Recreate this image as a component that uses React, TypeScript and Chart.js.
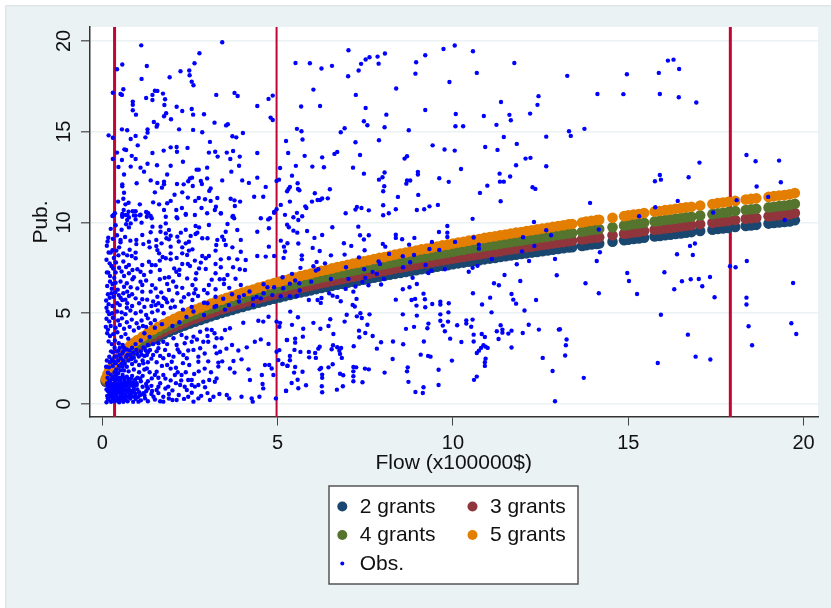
import React, { useEffect, useRef } from "react";
import { Chart, registerables } from "chart.js";

Chart.register(...registerables);

const seriesNames = ["2 grants", "3 grants", "4 grants", "5 grants"];
const seriesColors = ["#1a476f", "#90353b", "#55752f", "#e37e00"];
const obsName = "Obs.";
const obsColor = "#0000ff";
const xTicks = [0, 5, 10, 15, 20];
const yTicks = [0, 5, 10, 15, 20];
const xTitle = "Flow (x100000$)";
const yTitle = "Pub.";
const xRange = [-0.365, 20.41];
const yRange = [-0.716, 20.77];
const cutoffs = [0.35, 4.97, 17.91];
const cutoffWidths = [3, 2, 3];

const flowGrid = [
  0.1,0.15,0.2,0.3,0.4,0.5,0.6,0.7,0.8,0.9,1.0,1.15,1.3,1.45,1.6,1.75,1.9,2.05,2.2,2.35,2.5,2.65,2.8,2.95,3.1,3.25,3.4,3.55,3.7,3.85,4.0,4.15,4.3,4.45,4.6,4.75,4.9,5.05,
  5.2,5.35,5.5,5.65,5.8,5.95,6.1,6.25,6.4,6.55,6.7,6.85,7.0,7.15,7.3,7.45,7.6,7.75,7.9,8.05,8.2,8.35,8.5,8.65,8.8,8.95,9.1,9.25,9.4,9.55,9.7,9.85,
  10.0,10.15,10.3,10.45,10.6,10.75,10.9,11.05,11.2,11.35,11.5,11.65,11.8,11.95,12.1,12.25,12.4,12.55,12.7,12.85,13.0,13.15,13.3,13.4,
  13.68,13.8,13.95,14.1,14.17,14.55,14.88,15.0,15.15,15.3,15.45,15.75,15.9,16.05,16.2,16.35,16.5,16.65,16.8,17.05,17.4,17.55,17.7,17.85,18.05,18.35,18.5,18.65,19.0,19.15,19.3,19.45,19.6,19.75,
];
const fit2 = [
  1.22,1.44,1.61,1.90,2.13,2.33,2.50,2.66,2.81,2.94,3.07,3.24,3.41,3.56,3.71,3.84,3.97,4.09,4.21,4.32,4.43,4.53,4.63,4.73,4.83,4.92,5.01,5.10,5.18,5.27,5.35,5.43,5.50,5.58,5.65,5.73,5.80,5.87,
  5.94,6.01,6.07,6.14,6.20,6.26,6.33,6.39,6.45,6.51,6.57,6.62,6.68,6.74,6.79,6.85,6.90,6.96,7.01,7.06,7.12,7.17,7.22,7.27,7.32,7.37,7.42,7.46,7.51,7.56,7.61,7.65,
  7.70,7.75,7.79,7.84,7.88,7.92,7.97,8.01,8.05,8.10,8.14,8.18,8.22,8.26,8.30,8.34,8.38,8.42,8.46,8.50,8.54,8.58,8.62,8.64,
  8.71,8.75,8.79,8.82,8.84,8.94,9.02,9.05,9.09,9.12,9.16,9.23,9.26,9.30,9.33,9.37,9.40,9.44,9.47,9.53,9.60,9.64,9.67,9.70,9.75,9.81,9.84,9.87,9.94,9.97,10.0,10.03,10.06,10.12,
];
const fit3 = [
  1.27,1.50,1.67,1.98,2.22,2.42,2.60,2.77,2.92,3.06,3.19,3.37,3.55,3.70,3.86,3.99,4.13,4.25,4.38,4.49,4.61,4.71,4.82,4.92,5.02,5.12,5.21,5.30,5.39,5.48,5.56,5.65,5.72,5.80,5.88,5.96,6.03,6.10,
  6.18,6.25,6.31,6.39,6.45,6.51,6.58,6.65,6.71,6.77,6.83,6.88,6.95,7.01,7.06,7.12,7.18,7.24,7.29,7.34,7.40,7.46,7.51,7.56,7.61,7.66,7.72,7.76,7.81,7.86,7.91,7.96,
  8.01,8.06,8.10,8.15,8.20,8.24,8.29,8.33,8.37,8.42,8.47,8.51,8.55,8.59,8.63,8.67,8.72,8.76,8.80,8.84,8.88,8.92,8.96,8.99,
  9.06,9.10,9.14,9.17,9.19,9.30,9.38,9.41,9.45,9.48,9.53,9.60,9.63,9.67,9.70,9.74,9.78,9.82,9.85,9.91,9.98,10.03,10.06,10.09,10.14,10.20,10.23,10.26,10.34,10.37,10.40,10.43,10.46,10.52,
];
const fit4 = [
  1.33,1.57,1.75,2.07,2.32,2.54,2.73,2.90,3.06,3.20,3.35,3.53,3.72,3.88,4.04,4.19,4.33,4.46,4.59,4.71,4.83,4.94,5.05,5.16,5.26,5.36,5.46,5.56,5.65,5.74,5.83,5.92,6.00,6.08,6.16,6.25,6.32,6.40,
  6.47,6.55,6.62,6.69,6.76,6.82,6.90,6.97,7.03,7.10,7.16,7.22,7.28,7.35,7.40,7.47,7.52,7.59,7.64,7.70,7.76,7.82,7.87,7.92,7.98,8.03,8.09,8.13,8.19,8.24,8.29,8.34,
  8.39,8.45,8.49,8.55,8.59,8.63,8.69,8.73,8.77,8.83,8.87,8.92,8.96,9.00,9.05,9.09,9.13,9.18,9.22,9.27,9.31,9.35,9.40,9.42,
  9.49,9.54,9.58,9.61,9.64,9.74,9.83,9.86,9.91,9.94,9.98,10.06,10.09,10.14,10.17,10.21,10.25,10.29,10.32,10.39,10.46,10.51,10.54,10.57,10.63,10.69,10.73,10.76,10.83,10.87,10.90,10.93,10.97,11.03,
];
const fit5 = [
  1.40,1.65,1.85,2.18,2.45,2.67,2.87,3.05,3.23,3.38,3.52,3.72,3.91,4.09,4.26,4.41,4.56,4.70,4.83,4.96,5.09,5.20,5.32,5.43,5.54,5.65,5.75,5.85,5.95,6.05,6.14,6.23,6.31,6.41,6.49,6.58,6.66,6.74,
  6.82,6.90,6.97,7.05,7.12,7.19,7.27,7.34,7.40,7.47,7.54,7.60,7.67,7.74,7.79,7.86,7.92,7.99,8.05,8.10,8.17,8.23,8.29,8.35,8.40,8.46,8.52,8.56,8.62,8.68,8.74,8.78,
  8.84,8.90,8.94,9.00,9.05,9.09,9.15,9.20,9.24,9.30,9.34,9.39,9.44,9.48,9.53,9.57,9.62,9.67,9.71,9.76,9.80,9.85,9.90,9.92,
  10.00,10.05,10.09,10.13,10.15,10.26,10.35,10.39,10.44,10.47,10.52,10.60,10.63,10.68,10.71,10.76,10.79,10.84,10.87,10.94,11.02,11.07,11.10,11.14,11.19,11.26,11.30,11.33,11.41,11.45,11.48,11.51,11.55,11.62,
];

const obsUpperMiddle: [number, number][] = [
  [5.51,18.79],[5.92,18.77],[6.25,18.48],[6.55,18.63],[7.02,19.49],[7.01,18.06],[7.31,18.37],[7.38,18.74],[7.51,18.98],[7.62,19.10],[7.85,19.14],[7.88,18.75],[8.06,19.31],[8.95,18.83],[9.21,19.21],[8.93,18.20],[9.73,19.56],[10.05,19.75],[10.57,19.43],[11.75,18.79],[10.68,18.24],[9.90,17.74],[6.02,17.32],[8.38,17.38],[7.23,17.03],[5.67,16.39],[6.21,16.42],[7.51,16.31],[9.21,16.20],[8.10,15.94],[10.08,15.98],[10.88,15.87],[11.37,16.64],[11.61,15.93],[11.65,15.63],[12.44,16.96],[12.41,16.48],[12.20,16.0],[7.46,15.58],[7.56,15.36],[8.05,15.25],[8.74,15.08],[10.07,15.30],[10.29,15.30],[11.24,15.38],[5.55,15.16],[5.68,15.03],[6.91,15.19],[6.80,14.97],[5.24,14.49],[5.71,14.57],[7.22,14.42],[7.89,14.53],[11.45,14.71],[12.66,14.73],[9.42,14.25],[9.76,14.02],[10.05,13.96],[10.92,14.16],[11.27,14.0],[11.82,14.33],[5.30,13.83],[5.77,13.67],[6.27,13.59],[6.62,13.78],[6.70,13.89],[7.35,13.72],[8.69,13.65],[8.62,13.52],[12.07,13.52],[12.21,13.56],[5.52,13.12],[5.99,13.08],[6.32,13.04],[7.15,13.02],[11.80,13.15],[12.66,13.10],[10.23,12.95],[5.07,13.0],[5.41,12.58],[7.46,12.69],[8.05,12.75],[9.0,12.79],[9.0,12.64],[11.33,12.69],[11.63,12.53],[7.89,12.36],[7.99,12.49],[9.61,12.44],[8.69,12.31],[8.78,12.31],[8.67,12.14],[9.88,12.24],[11.34,12.25],[11.45,12.25],[10.98,12.03],[5.57,12.16],[5.35,11.96],[5.31,11.85],[5.27,11.72],[5.58,11.85],[5.62,11.78],[6.49,11.83],[6.06,11.61],[8.04,12.0],[8.01,11.72],[12.27,11.94],[12.35,11.85],[10.77,11.63],[9.01,11.52],[8.43,11.41],[5.98,11.15],[6.14,11.24],[6.21,11.24],[6.27,11.32],[6.43,11.33],[5.35,11.15],[11.36,11.17],[5.09,10.97],[5.79,10.89],[5.82,10.80],[8.01,10.95],[9.57,10.97],[9.33,10.89],[9.18,10.73],[8.97,10.69],[8.37,10.73],[7.60,10.67],[7.39,10.80],[7.26,10.86],[7.22,10.71],[6.94,10.51],[8.17,10.51],[8.01,10.40],[5.21,10.42],[5.55,10.53],[5.45,10.29],[5.70,10.34],[5.59,10.14],[5.27,9.88],[5.32,9.74],[6.56,9.74],[7.30,9.77],[9.84,9.81],[10.56,10.20],[12.31,10.03],
];
const obsRight: [number, number][] = [
  [13.26,18.08],[14.12,17.08],[14.86,17.07],[14.96,18.17],[15.87,18.24],[15.90,17.08],[16.13,18.92],[16.29,18.97],[16.45,18.46],[16.44,16.90],[16.94,16.61],[13.31,15.03],[13.36,14.77],[13.75,15.16],[17.03,13.30],[15.90,12.62],[15.93,12.36],[15.76,12.27],[16.72,12.49],[13.91,11.08],[15.31,10.34],[15.77,10.84],[16.41,11.19],[17.42,10.55],[18.09,11.23],[18.37,13.72],[18.63,13.37],[19.30,13.41],[18.66,11.98],[19.35,12.22],[18.99,11.41],[19.46,10.14],
  [14.16,9.61],[14.19,8.36],[14.10,7.88],[16.76,8.71],[16.90,8.84],[16.39,8.25],[16.84,8.21],[18.38,7.88],[17.90,7.59],[18.06,7.53],[14.97,7.22],[16.03,7.26],[15.02,6.78],[13.78,6.65],[14.16,6.10],[15.25,6.06],[16.31,6.32],[16.53,6.76],[16.78,6.87],[17.01,6.89],[17.33,7.0],[17.11,6.49],[17.46,5.88],[18.37,5.86],[18.37,5.48],[19.70,6.67],[15.93,4.92],[18.43,4.28],[19.65,4.45],[19.79,3.86],[16.70,3.82],[13.05,4.12],[13.24,3.55],[13.22,3.24],[13.20,2.67],[18.53,3.24],[16.92,2.61],[17.34,2.45],[15.84,2.26],[13.73,1.44],
];
const obsLowerMiddle: [number, number][] = [
  [5.45,9.55],[5.56,9.44],[5.84,9.53],[6.27,9.31],[6.05,9.15],[7.35,9.30],[7.60,9.30],[7.46,9.06],[8.37,9.33],[8.37,9.15],[8.55,9.08],[8.90,9.15],[9.60,9.48],[9.84,9.44],[9.84,9.20],[6.89,8.86],[7.10,8.71],[8.0,8.82],[8.07,8.67],[8.75,8.78],[9.40,8.93],[10.06,8.93],[10.59,9.17],[10.74,8.78],[10.74,8.56],[12.0,9.19],[12.80,9.30],[12.66,9.57],[5.09,9.0],[5.28,8.86],[5.18,8.67],[5.21,8.40],[5.17,8.05],[5.59,8.84],[6.0,8.60],[6.20,8.43],[5.69,8.19],[5.69,7.97],[6.52,8.19],[6.91,8.23],[7.48,8.47],[7.32,8.08],[8.18,8.27],[8.57,8.14],[8.89,8.21],[9.33,8.54],[9.61,8.49],[12.32,8.71],[11.97,8.41],[12.17,7.88],[12.91,7.99],[11.11,7.99],[11.82,7.70],[10.70,7.61],[10.56,7.50],[10.45,7.29],[12.96,7.09],[11.47,7.11],[9.77,7.42],[9.39,7.35],[9.30,7.22],[9.22,7.66],[8.78,7.81],[8.58,7.53],[8.85,6.95],[8.03,6.89],[7.88,7.86],[7.92,7.72],[7.83,7.17],[7.71,7.28],[7.47,7.42],[7.50,6.95],[7.42,6.72],[7.02,6.89],[6.95,7.53],[6.52,6.89],[6.35,7.75],[6.11,7.83],[6.02,7.59],[6.16,7.42],[6.09,7.35],[5.65,7.50],[5.41,7.17],[5.14,6.98],[5.96,6.74],[5.50,6.80],[5.35,6.63],[5.62,6.65],[5.16,6.38],[5.63,6.25],[5.09,5.94],[5.35,5.94],[5.55,5.95],[5.89,5.73],[6.14,5.73],[6.25,5.84],[6.23,5.57],[6.94,6.34],[7.22,6.47],[7.59,6.54],[7.95,6.58],[8.57,6.32],[8.76,6.43],[8.97,6.61],[6.47,6.10],[6.57,5.97],[6.70,5.90],[6.80,5.66],[7.16,6.19],[7.25,5.79],[7.14,5.46],[7.20,5.37],[8.37,5.75],[8.82,5.73],[8.92,5.79],[9.20,5.77],[9.16,6.08],[8.96,5.42],[9.21,5.33],[9.41,5.51],[9.64,5.64],[9.64,5.48],[9.88,5.55],[9.87,5.05],[10.57,6.10],[11.17,6.65],[11.31,6.54],[11.92,6.78],[11.06,5.86],[11.67,6.06],[11.72,5.75],[11.80,5.53],[12.37,5.73],[10.83,5.48],[11.10,5.05],[12.04,5.15],
  [5.36,5.09],[5.58,4.78],[6.50,4.67],[6.97,4.92],[7.36,5.0],[7.26,4.83],[7.40,4.74],[7.62,4.94],[8.57,4.94],[8.97,4.87],[9.64,4.94],[9.64,4.59],[9.86,4.54],[10.12,4.34],[10.38,4.61],[10.38,4.43],[10.56,4.65],[10.52,4.26],[9.71,4.32],[9.77,4.01],[9.30,4.43],[9.27,4.17],[8.89,4.25],[8.66,4.14],[7.56,4.37],[7.32,4.04],[6.91,4.54],[6.02,4.47],[5.41,4.36],[5.07,4.47],[5.73,4.15],[6.22,4.15],[6.45,4.30],[6.59,3.86],[7.50,3.91],[7.71,3.75],[7.33,3.68],[5.72,3.71],[5.27,3.53],[5.50,3.60],[5.50,3.38],[7.95,3.40],[8.29,3.44],[8.58,3.29],[9.17,3.44],[9.92,3.60],[10.24,3.42],[10.59,3.82],[10.59,3.44],[10.82,3.86],[10.91,3.69],[11.25,4.01],[11.36,4.34],[11.41,4.10],[11.41,3.93],[11.58,3.88],[11.67,4.04],[11.30,3.58],[11.99,3.91],[12.16,4.37],[12.45,4.10],[13.02,4.10],[11.67,3.11],[10.93,3.16],[10.87,3.24],[10.80,3.09],[10.74,2.94],[10.68,2.81],[10.99,3.09],[10.93,2.50],[10.91,2.30],[10.91,2.10],[9.97,2.39],[12.56,2.54],[12.84,1.82],[9.59,1.89],[9.08,2.72],[9.29,2.65],[9.36,2.61],[8.28,2.48],[7.83,3.05],[7.17,3.18],[6.83,2.54],[6.78,2.76],[6.76,2.94],[6.70,3.13],[6.81,3.09],[6.58,3.24],[6.54,3.02],[6.20,3.16],[6.16,3.05],[5.89,2.87],[6.07,2.81],[6.09,2.54],[5.90,2.57],[5.65,2.87],[5.48,2.98],[5.35,2.65],[5.35,2.41],[5.14,2.21],[5.28,2.10],[5.50,2.04],[5.47,1.73],[5.71,1.78],[6.24,1.99],[6.20,1.91],[6.45,2.02],[6.57,2.19],[6.27,1.62],[6.27,1.44],[6.78,1.67],[6.87,1.58],[7.16,2.04],[7.24,2.02],[7.16,1.80],[7.16,1.53],[7.16,1.25],[7.42,1.20],[7.49,1.95],[7.60,1.91],[8.05,1.73],[8.71,2.02],[8.69,1.80],[8.73,1.22],[9.59,1.05],[9.16,0.92],[9.14,0.61],[8.93,0.66],[10.68,1.51],[10.60,1.33],[5.40,1.16],[5.57,1.34],[5.81,1.03],[5.59,0.87],[5.24,0.72],[6.26,0.98],[6.27,0.65],[6.69,0.79],[6.86,0.98],[12.91,0.15],
];
const obsUpperLeft: [number, number][] = [
  [1.11,19.76],[3.42,19.93],[2.77,19.32],[2.63,18.77],[0.57,18.70],[1.27,18.62],[0.42,18.44],[2.23,18.33],[2.48,18.37],[2.49,18.11],[1.92,18.0],[1.12,17.91],[2.55,17.76],[2.60,17.56],[0.60,17.34],[0.30,17.15],[0.52,17.08],[0.56,17.03],[1.50,17.26],[1.57,17.25],[1.43,17.03],[1.73,17.10],[1.25,16.86],[1.43,16.75],[1.79,16.79],[3.25,17.03],[3.77,17.14],[3.86,16.97],[4.86,16.99],[4.74,16.81],[0.87,16.66],[0.87,16.49],[1.77,16.47],[2.12,16.38],[4.42,16.42],[0.87,16.18],[2.28,16.14],[2.55,16.25],[0.96,15.94],[1.82,16.02],[1.76,15.85],[2.59,15.94],[2.90,15.96],[1.96,15.69],[4.80,15.78],[4.86,15.65],[1.47,15.54],[1.57,15.39],[1.55,15.28],[3.20,15.50],[3.53,15.35],[3.58,15.41],[0.56,15.13],[0.71,15.08],[1.29,15.13],[1.29,14.95],[2.19,15.13],[2.59,15.10],[2.85,14.97],[0.18,14.80],[0.30,14.67],[0.81,14.60],[0.95,14.77],[1.23,14.69],[3.71,14.75],[3.82,14.69],[4.01,14.93],[3.07,14.44],[1.01,14.25],[0.63,14.03],[0.68,13.99],[0.42,13.85],[1.75,13.96],[1.95,14.14],[2.12,14.16],[2.13,13.90],[2.43,14.11],[1.43,13.83],[3.04,13.85],[3.22,13.90],[3.29,13.63],[3.55,13.85],[3.73,13.94],[3.92,13.63],[4.42,13.83],[0.84,13.67],[0.95,13.50],[0.30,13.50],[0.56,13.44],[3.65,13.50],[2.30,13.35],[1.29,13.24],[1.56,13.15],[0.81,13.08],[0.46,13.06],[1.95,13.13],[3.90,13.13],[1.09,13.02],[1.19,12.80],[2.69,12.91],[2.75,12.91],[2.99,13.02],[3.68,12.80],[0.62,12.64],[1.85,12.64],[2.56,12.47],[2.50,12.43],[2.99,12.43],[4.42,12.47],[1.38,12.32],[3.42,12.32],[3.99,12.32],[2.45,12.27],[2.81,12.29],[2.84,12.12],[1.57,12.18],[1.76,12.25],[1.76,12.10],[2.13,12.12],[2.32,12.10],[0.98,12.16],[0.57,12.10],[0.57,11.99],[4.18,12.18],[4.97,12.29],[5.04,12.36],[2.58,12.01],[4.66,11.96],[3.09,11.87],[3.05,11.74],[1.70,11.92],[1.50,11.66],[0.62,11.64],[2.28,11.66],[2.06,11.53],[2.44,11.37],[0.60,11.31],[2.75,11.35],[2.65,11.19],[2.93,11.28],[3.09,11.19],[3.28,11.35],[3.66,11.31],[3.77,11.22],[3.93,11.15],[4.33,11.42],[4.59,11.42],[0.45,11.15],[1.45,11.11],[0.75,11.09],[0.66,11.0],[1.07,11.0],[1.62,11.0],[1.85,11.06],[1.95,11.19],[2.83,10.80],[2.11,10.69],[2.27,10.80],[3.24,10.87],[3.21,10.69],[3.78,10.91],[1.76,10.69],[0.61,10.69],[0.75,10.60],[0.87,10.62],[0.95,10.62],[1.25,10.58],[1.31,10.51],[2.99,10.51],[3.38,10.51],[0.36,10.51],[0.30,10.38],[0.57,10.38],[0.72,10.41],[0.95,10.38],[1.07,10.40],[2.38,10.43],[4.97,10.73],[4.90,10.58],[4.78,10.23],[3.71,10.32],[2.12,10.29],[1.81,10.32],[1.27,10.32],
];
const obsCenterLeft: [number, number][] = [
  [0.57,10.47],[0.67,10.41],[0.33,10.43],[0.29,10.36],[0.57,10.32],[0.76,10.28],[0.90,10.39],[1.09,10.43],[1.28,10.54],[1.38,10.36],[2.14,10.23],[2.38,10.47],[2.64,10.41],[3.38,10.50],[3.73,10.36],[3.76,10.23],[4.52,10.23],[4.73,10.17],[4.90,10.54],[0.71,10.14],[0.95,10.17],[1.41,10.23],[0.81,9.95],[1.12,9.99],[1.43,9.77],[1.66,9.77],[1.81,9.95],[2.66,9.81],[2.76,9.73],[3.04,9.86],[3.57,9.92],[0.76,9.73],[1.90,9.59],[1.66,9.49],[1.81,9.40],[1.38,9.46],[2.24,9.44],[2.71,9.44],[3.85,9.59],[4.42,9.49],[4.75,9.68],[1.14,9.31],[1.95,9.27],[1.83,9.13],[2.52,9.26],[2.66,9.37],[3.52,9.49],[0.17,9.16],[0.52,9.04],[0.97,9.04],[1.33,8.94],[1.54,9.04],[1.69,8.85],[1.90,9.07],[2.14,9.22],[3.0,9.13],[3.42,9.22],[3.47,9.04],[3.28,9.04],[2.85,9.13],[0.52,8.91],[0.97,8.81],[0.13,8.72],[1.17,8.81],[1.54,8.70],[1.95,8.67],[2.47,8.94],[2.38,8.85],[3.25,8.76],[3.52,8.76],[3.71,8.63],[3.95,9.04],[4.75,8.67],[0.29,8.48],[0.24,8.34],[0.48,8.63],[1.35,8.63],[1.57,8.48],[2.28,8.63],[2.57,8.52],[2.47,8.45],[2.28,8.30],[3.23,8.45],[1.95,8.30],[0.95,8.34],[0.46,8.19],[0.71,8.19],[0.84,8.15],[1.62,8.30],[2.42,8.21],[2.85,8.15],[3.04,8.15],[3.95,8.39],[4.42,8.15],[4.66,8.12],[4.90,8.15],[0.95,8.03],[1.81,8.03],[1.95,7.97],[2.95,8.03],[3.38,7.97],[3.61,8.03],[3.85,7.97],[4.09,7.93],[1.33,7.84],[1.64,7.90],[2.28,7.71],[2.44,7.71],[2.64,7.90],[2.81,7.79],[3.23,7.71],[0.76,7.66],[1.14,7.66],[1.41,7.66],[2.05,7.47],[2.76,7.47],[2.95,7.44],[3.38,7.53],[3.73,7.53],[3.92,7.42],[4.07,7.38],[0.48,7.51],[0.31,7.46],[0.17,7.24],[0.86,7.38],[1.0,7.42],[1.09,7.29],[1.38,7.29],[1.64,7.38],[2.11,7.29],[2.68,7.20],[3.23,7.20],[0.76,7.20],[0.62,7.05],[0.90,6.98],[1.19,7.11],[1.90,6.98],[2.19,7.11],[2.42,6.92],[2.66,6.87],[3.35,6.87],[3.47,6.87],[3.57,7.11],[0.86,6.87],[1.09,6.74],[1.64,6.87],[0.38,6.68],[0.29,6.61],[3.47,6.61],[1.85,6.61],[2.11,6.46],[2.57,6.56],[3.04,6.56],[0.62,6.46],[1.14,6.56],[1.0,6.37],[0.81,6.43],[0.27,6.35],[1.52,6.37],[2.66,6.32],[2.90,6.28],[3.23,6.32],[3.95,6.56],[0.71,6.19],[1.14,6.19],[1.38,6.19],[1.90,6.28],[2.14,6.10],[2.62,6.10],[0.76,5.95],[1.57,5.91],[0.95,5.82],[1.14,5.77],[1.81,5.77],[2.33,5.88],[0.57,5.73],[2.57,5.73],[0.43,5.55],[0.71,5.55],[1.05,5.55],[1.52,5.45],[2.07,5.36],[2.90,5.58],[0.29,5.40],
  [4.04,6.0],[3.23,5.91],[3.61,5.45],[4.71,6.43],[4.9,6.43],[4.52,5.82],
  [1.7,5.4],[1.95,5.3],[2.3,5.2],[2.55,5.35],[1.85,5.6],[2.0,5.7],[1.6,5.55],[1.4,5.4],[1.2,5.35],[0.85,5.4],[0.7,5.3],[0.5,5.45],[0.18,5.5],[0.12,5.3],[2.25,5.65],[3.0,5.55],[3.25,5.4],[3.9,5.65],[4.3,5.45],[4.4,5.9],[3.7,6.05],[4.2,6.2],[4.6,6.6],[3.45,5.8],[3.0,6.1],
];
const obsCluster: [number, number][] = [
  [0.15,5.1],[0.2,4.95],[0.28,5.0],[0.42,5.1],[0.55,5.05],[0.66,4.95],[0.8,5.15],[0.95,5.0],[1.1,5.1],[1.25,4.9],[1.42,5.05],[1.58,5.15],[1.75,5.0],[0.12,4.7],[0.2,4.55],[0.3,4.75],[0.45,4.6],[0.56,4.72],[0.7,4.5],[0.84,4.65],[0.98,4.45],[1.12,4.6],[1.3,4.72],[0.1,4.25],[0.16,4.1],[0.24,4.3],[0.38,4.2],[0.5,4.35],[0.62,4.15],[0.78,4.25],[0.9,4.05],[1.04,4.2],[0.14,3.9],[0.22,3.75],[0.31,3.85],[0.43,3.95],[0.54,3.7],[0.66,3.85],[0.74,3.6],[0.18,3.45],[0.27,3.3],[0.36,3.5],[0.47,3.35],[0.58,3.25],
  [0.5,3.1],[0.6,2.9],[0.45,2.4],[0.55,2.2],[0.35,2.6],[0.3,2.1],[0.4,1.9],[0.7,3.0],[0.85,3.1],[0.95,3.3],[1.1,3.5],[1.2,3.9],[1.35,3.7],[1.5,4.2],[1.7,4.4],[2.0,4.3],[2.2,4.5],[2.4,4.8],[2.6,5.1],[2.9,4.9],[3.2,5.35],[3.5,5.2],[3.9,5.9],[4.3,5.8],[4.6,6.1],[4.85,6.0],
  [0.8,2.7],[0.9,2.55],[1.0,2.75],[1.1,2.9],[1.2,2.65],[1.3,2.85],[1.45,2.7],[1.55,2.9],[1.65,2.65],[0.75,2.4],[0.85,2.2],[0.95,2.35],[1.05,2.15],[1.15,2.4],[1.3,2.3],[1.4,2.5],[1.55,2.3],[1.7,2.1],[1.85,2.15],[1.95,1.95],[2.1,2.0],[0.7,2.05],[0.62,1.85],[0.75,1.8],[0.9,1.9],[1.05,1.75],[1.2,1.9],[1.35,1.75],[1.5,1.6],[1.6,1.45],[1.8,1.4],[1.95,1.3],[2.1,1.15],[2.25,1.3],[2.35,0.95],[2.0,0.75],[1.8,0.85],[1.6,0.95],[1.4,1.0],[1.3,1.25],[1.15,1.55],[1.0,1.45],[0.85,1.55],[0.7,1.5],[0.58,1.6],[0.48,1.45],[0.4,1.6],[0.3,1.5],[0.2,1.0],
  [0.12,0.1],[0.18,0.25],[0.25,0.12],[0.3,0.3],[0.36,0.15],[0.42,0.35],[0.48,0.1],[0.54,0.25],[0.6,0.12],[0.66,0.3],[0.72,0.15],[0.8,0.3],[0.88,0.12],[0.95,0.28],[1.1,0.2],[1.3,0.15],[1.5,0.25],[1.65,0.15],[1.9,0.3],[0.14,0.45],[0.2,0.6],[0.27,0.5],[0.34,0.62],[0.4,0.48],[0.46,0.65],[0.52,0.5],[0.58,0.62],[0.65,0.5],[0.72,0.65],[0.78,0.5],[0.85,0.62],[0.95,0.55],[1.05,0.65],[1.25,0.7],[1.4,0.55],[1.6,0.6],[0.12,0.8],[0.18,0.95],[0.25,0.82],[0.32,0.98],[0.38,0.8],[0.44,0.95],[0.5,0.82],[0.56,1.0],[0.62,0.85],[0.68,1.0],[0.75,0.85],[0.82,1.02],[0.9,0.88],[1.0,0.8],[1.15,0.95],[1.3,0.85],[0.14,1.15],[0.22,1.3],[0.3,1.12],[0.36,1.3],[0.42,1.15],[0.5,1.28],[0.56,1.15],[0.63,1.3],[0.7,1.18],[0.78,1.25],[0.88,1.2],[0.98,1.15],[1.1,1.25],[1.25,1.1],[0.15,1.45],[0.35,1.75],[0.45,1.7],[0.52,1.85],[0.58,2.05],[0.48,2.1],[0.38,2.25],[0.6,2.4],[0.68,2.6],[0.5,2.7],[0.42,2.9],[0.62,3.1],[0.3,2.85],[0.35,3.1],[0.25,2.9],[0.2,2.6],[0.22,2.3],
  [2.3,2.25],[1.9,2.7],[2.2,2.85],[2.45,2.95],[2.15,3.0],[1.3,3.25],[1.45,3.3],[1.6,3.35],[1.85,3.3],[2.35,3.35],[2.7,3.55],[3.0,3.75],[3.2,3.9],[2.4,3.65],
  [4.74,4.81],[4.59,4.54],[4.45,4.59],[4.97,4.54],[5.05,4.26],[4.02,4.48],[3.64,4.17],[3.50,4.08],[3.40,3.62],[3.26,3.62],[3.12,4.08],[2.98,4.11],[2.79,3.98],[2.55,3.43],[2.60,3.71],[2.88,3.43],[3.02,3.43],[2.26,3.80],[2.03,3.62],[1.74,3.43],[4.35,3.43],[4.52,3.56],[4.74,3.31],[5.26,3.53],[3.36,2.88],[3.21,3.16],[3.26,2.79],[2.79,3.07],[2.60,2.98],[2.12,3.25],[2.03,2.61],[2.31,2.70],[1.79,2.98],[1.60,3.07],[1.36,2.98],[1.27,2.70],[1.74,2.52],[1.98,2.33],[2.41,2.52],[2.74,2.61],[2.74,2.33],[3.31,2.28],[3.31,2.06],[3.74,2.37],[3.97,2.46],[4.97,2.88],[5.05,2.97],[5.02,2.42],[4.64,2.15],[4.76,2.15],[5.14,2.20],[5.28,2.11],[3.64,1.96],[3.77,1.73],[4.17,1.91],[4.55,1.60],[4.83,1.96],[4.88,1.60],[4.21,1.32],[4.57,1.10],[4.59,0.86],[5.24,0.73],[3.26,1.41],[3.21,1.23],[3.05,1.32],[2.88,1.23],[2.93,0.92],[2.74,1.05],[2.64,0.96],[2.45,1.32],[2.55,1.32],[2.26,1.60],[2.07,1.60],[2.41,0.77],[1.74,1.60],[1.55,1.78],[1.27,1.96],[1.17,2.24],[1.41,1.41],[1.08,1.41],[1.65,1.14],[1.88,0.96],[1.27,0.96],[0.98,1.05],[1.17,0.59],[1.55,0.77],[1.74,0.40],[1.74,0.13],[2.0,0.22],[2.12,0.22],[2.45,0.40],[2.33,0.28],[2.60,0.13],[2.74,0.31],[3.07,0.22],[3.17,0.40],[3.55,0.50],[3.62,0.31],[3.97,0.40],[4.26,0.31],[4.29,0.13],[4.48,0.40],[4.95,0.31],[1.03,0.13],[1.22,0.31],[1.46,0.40],
];
const obsDense: [number, number][] = [
  [0.11,2.05],[0.16,1.72],[0.13,2.4],[0.24,1.62],[0.19,2.02],[0.27,2.45],[0.33,2.34],[0.41,2.62],[0.46,2.95],[0.53,2.52],[0.57,2.78],[0.64,2.22],[0.72,2.72],[0.78,2.95],[0.83,2.48],[0.88,2.82],[0.97,2.98],[1.04,2.62],[1.12,2.72],[1.18,3.12],[1.24,2.95],
  [0.16,0.32],[0.22,0.42],[0.29,0.18],[0.33,0.42],[0.39,0.25],[0.45,0.2],[0.51,0.38],[0.57,0.42],[0.63,0.22],[0.69,0.42],[0.76,0.38],[0.84,0.42],[0.92,0.4],[1.02,0.38],[1.08,0.5],[1.2,0.48],[0.16,0.72],[0.23,0.7],[0.3,0.72],[0.37,0.58],[0.42,0.72],[0.48,0.78],[0.55,0.7],[0.61,0.72],[0.68,0.75],[0.74,0.78],[0.82,0.72],[0.9,0.72],[0.16,1.02],[0.23,1.08],[0.28,0.92],[0.35,1.02],[0.41,1.02],[0.47,1.08],[0.53,0.95],[0.6,1.08],[0.66,1.12],[0.73,1.06],[0.8,1.12],[0.92,1.05],[0.2,1.25],[0.27,1.38],[0.33,1.42],[0.39,1.42],[0.45,1.38],[0.53,1.42],[0.62,1.45],[0.74,1.38],[0.82,1.4],[0.94,1.35],
  [0.11,5.7],[0.16,6.05],[0.21,5.85],[0.26,6.1],[0.32,5.9],[0.37,6.15],[0.47,6.0],[0.52,5.85],[0.6,6.1],[0.66,5.75],[0.85,6.05],[0.14,6.5],[0.22,6.75],[0.34,6.95],[0.44,6.3],[0.52,6.75],[0.7,6.65],[0.13,7.25],[0.22,7.05],[0.26,7.6],[0.38,7.25],[0.55,7.3],[0.68,7.55],[0.12,7.95],[0.21,7.75],[0.33,8.05],[0.39,7.8],[0.6,7.85],[0.18,8.35],[0.4,8.45],[0.6,8.3],[0.78,8.5],[0.15,8.95],[0.3,9.1],[0.42,9.3],[0.65,9.2],[0.8,9.0],[0.24,9.65],[0.38,9.85],[0.55,9.6],[0.68,9.9],
  [1.25,4.25],[1.38,4.45],[1.5,4.62],[1.16,4.3],[1.45,5.65],[1.28,5.75],[1.75,5.85],[1.68,6.15],[1.42,6.55],[1.25,6.8],[1.78,6.95],[2.02,6.75],[2.28,6.4],[2.46,6.05],[2.73,5.95],[2.2,7.4],[2.5,7.6],[1.52,7.65],[1.72,8.1],[2.12,8.05],[2.18,8.95],[2.38,9.6],[3.12,6.85],[3.62,6.4],[3.8,6.9],
  [3.02,2.35],[2.92,2.78],[2.48,2.15],[2.15,1.75],[2.38,1.75],[2.62,1.65],[2.75,1.8],[2.92,1.95],[3.1,1.75],[3.42,2.35],[3.54,3.05],[3.7,3.25],[3.88,2.95],[4.12,3.12],[1.42,0.72],[1.9,0.55],[2.18,0.5],[2.55,0.62],[2.82,0.45],[3.34,0.55],[2.22,1.05],[2.55,1.05],[3.0,0.6],
];
const observations = [...obsUpperMiddle, ...obsRight, ...obsLowerMiddle, ...obsUpperLeft, ...obsCenterLeft, ...obsCluster, ...obsDense];
const fits = [fit2, fit3, fit4, fit5];

const FONT = "'Liberation Sans', Arial, sans-serif";

const framePlugin = {
  id: "frame",
  beforeDraw(chart: any) {
    const { ctx, width, height, chartArea: a } = chart;
    ctx.save();
    ctx.fillStyle = "#ffffff";
    ctx.fillRect(0, 0, width, height);
    ctx.fillStyle = "#dfe6e9";
    ctx.fillRect(5, 5, width - 5, height - 5);
    ctx.fillStyle = "#eaf2f3";
    ctx.fillRect(6.5, 6.5, width - 6.5, height - 6.5);
    ctx.fillStyle = "#ffffff";
    ctx.fillRect(a.left, a.top, a.right - a.left, a.bottom - a.top);
    ctx.restore();
  },
};

const legendPlugin = {
  id: "stataLegend",
  afterDraw(chart: any) {
    const { ctx } = chart;
    ctx.save();
    ctx.fillStyle = "#ffffff";
    ctx.strokeStyle = "#555555";
    ctx.lineWidth = 1.5;
    ctx.fillRect(329, 486, 249, 98);
    ctx.strokeRect(329, 486, 249, 98);
    const entries = chart.data.datasets.filter((d: any) => d.inLegend);
    ctx.font = "21px " + FONT;
    ctx.textBaseline = "middle";
    ctx.textAlign = "left";
    entries.forEach((d: any, i: number) => {
      const col = i % 2;
      const row = Math.floor(i / 2);
      const mx = 342.3 + col * 130.2;
      const my = 506.5 + row * 28.5;
      ctx.fillStyle = d.backgroundColor;
      ctx.beginPath();
      ctx.arc(mx, my, d.legendRadius, 0, Math.PI * 2);
      ctx.fill();
      ctx.fillStyle = "#111111";
      ctx.fillText(d.label, mx + 17.4, my + 0.5);
    });
    ctx.restore();
  },
};

export default function App() {
  const ref = useRef<HTMLCanvasElement>(null);
  useEffect(() => {
    if (!ref.current) return;
    const fitSets = seriesNames.map((name, i) => ({
      label: name,
      data: flowGrid.map((x, k) => ({ x, y: fits[i][k] })),
      backgroundColor: seriesColors[i],
      borderColor: seriesColors[i],
      pointRadius: 5.3,
      pointBorderWidth: 0,
      order: 5 - i,
      inLegend: true,
      legendRadius: 5,
    }));
    const obsSet = {
      label: obsName,
      data: observations.map(([x, y]) => ({ x, y })),
      backgroundColor: obsColor,
      borderColor: obsColor,
      pointRadius: 2.2,
      pointBorderWidth: 0,
      order: 0,
      inLegend: true,
      legendRadius: 2,
    };
    const lineSets = cutoffs.map((c, i) => ({
      label: "cutoff " + (i + 1),
      data: [{ x: c, y: yRange[0] }, { x: c, y: yRange[1] }],
      showLine: true,
      borderColor: "#c10534",
      backgroundColor: "#c10534",
      borderWidth: cutoffWidths[i],
      pointRadius: 0,
      order: 10,
      inLegend: false,
    }));
    const chart = new Chart(ref.current, {
      type: "scatter",
      data: { datasets: [...fitSets, obsSet, ...lineSets] as any },
      plugins: [framePlugin, legendPlugin],
      options: {
        responsive: false,
        animation: false,
        devicePixelRatio: 1,
        layout: { padding: { left: 29, top: 27, right: 13, bottom: 132 } },
        plugins: { legend: { display: false }, tooltip: { enabled: false }, title: { display: false } },
        scales: {
          x: {
            type: "linear",
            min: xRange[0],
            max: xRange[1],
            afterBuildTicks: (s: any) => { s.ticks = xTicks.map((value) => ({ value })); },
            afterFit: (s: any) => { s.height = 59; },
            border: { color: "#333333", width: 1.5 },
            grid: { drawOnChartArea: false, drawTicks: true, tickLength: 8.5, tickColor: "#444444", tickWidth: 1 },
            ticks: { color: "#111111", font: { family: FONT, size: 20 }, padding: 6, maxRotation: 0 },
            title: { display: true, text: xTitle, color: "#111111", font: { family: FONT, size: 21 }, padding: { top: 0, bottom: 0 } },
          },
          y: {
            type: "linear",
            min: yRange[0],
            max: yRange[1],
            afterBuildTicks: (s: any) => { s.ticks = yTicks.map((value) => ({ value })); },
            afterFit: (s: any) => { s.width = 60.5; },
            border: { color: "#333333", width: 1.5 },
            grid: { color: "#eaf2f3", lineWidth: 1.5, tickLength: 8.5, tickColor: "#666666", tickWidth: 1.5 },
            ticks: { color: "#111111", font: { family: FONT, size: 20 }, padding: 5.5, minRotation: 90, maxRotation: 90, crossAlign: "center" },
            title: { display: true, text: yTitle, color: "#111111", font: { family: FONT, size: 21 }, padding: { top: 0, bottom: 0 } },
          },
        },
      } as any,
    });
    return () => chart.destroy();
  }, []);
  return (
    <div style={{ position: "absolute", left: 0, top: 0, width: 831, height: 608 }}>
      <canvas ref={ref} width={831} height={608} style={{ display: "block", width: 831, height: 608 }} />
    </div>
  );
}
